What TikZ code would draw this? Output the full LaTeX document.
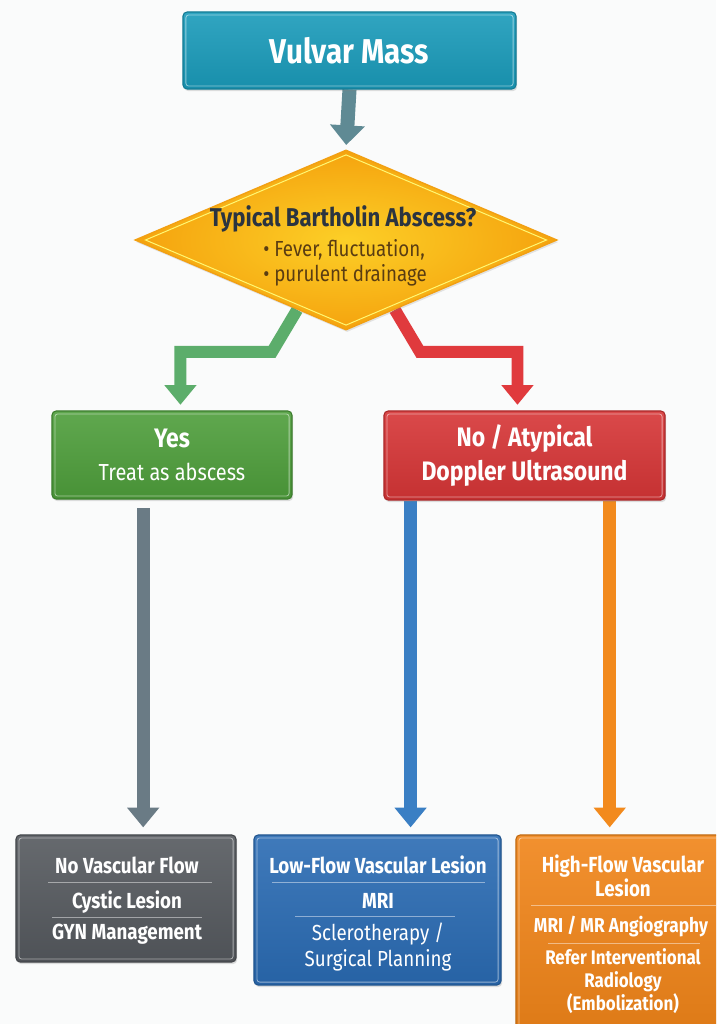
\documentclass[tikz,border=0pt]{standalone}
\usepackage{fontspec}
\setmainfont{Fira Sans}[FakeStretch=0.86]
\usetikzlibrary{shapes.geometric,arrows.meta,shadows}

\definecolor{paper}{HTML}{FAFBFB}
\definecolor{tealbox}{HTML}{1A9BBA}
\definecolor{tealarrow}{HTML}{5F8A94}
\definecolor{diaIn}{HTML}{FCCF27}
\definecolor{diaOut}{HTML}{F5A30E}
\definecolor{diaLine}{HTML}{F2A012}
\definecolor{diaText}{HTML}{2B3440}
\definecolor{diaBullet}{HTML}{5A3D12}
\definecolor{greenarrow}{HTML}{5CAD6B}
\definecolor{greenbox}{HTML}{4E9E3B}
\definecolor{redarrow}{HTML}{E03A3D}
\definecolor{redbox}{HTML}{D63536}
\definecolor{grayarrow}{HTML}{6A7B85}
\definecolor{graybox}{HTML}{55595E}
\definecolor{bluearrow}{HTML}{3A7FC4}
\definecolor{bluebox}{HTML}{2A6BB3}
\definecolor{orangearrow}{HTML}{F28A1D}
\definecolor{orangebox}{HTML}{F08418}

\pgfdeclarelayer{paperlayer}
\pgfdeclarelayer{linklayer}
\pgfsetlayers{paperlayer,linklayer,main}

\begin{document}
\begin{tikzpicture}[x=0.025cm, y=-0.025cm,
    flowbox/.style={rectangle, rounded corners=3pt, draw=#1!80!black, line width=0.8pt,
        top color=#1!90!white, bottom color=#1!92!black, text=white, align=center,
        drop shadow={opacity=0.25, shadow xshift=0.8pt, shadow yshift=-1.5pt}},
    flow/.style={draw=#1, line width=9pt, -{Triangle[width=22pt,length=14pt]}},
    divider/.style={draw=white, opacity=0.45, line width=0.6pt},
    boxtext/.style={text=white, align=center, font=\fontsize{15.5}{18}\selectfont\bfseries}]

    % --- sayfa ---
    \useasboundingbox (0,0) rectangle (716,1024);
    \begin{pgfonlayer}{paperlayer}
        \fill[paper] (0,0) rectangle (716,1024);
    \end{pgfonlayer}
    \clip (0,0) rectangle (716,1024);

    % --- baslangic ---
    \node[flowbox=tealbox, minimum width=8.325cm, minimum height=1.925cm,
        font=\fontsize{24.5}{28}\selectfont\bfseries] (mass) at (349.5,50.5) {Vulvar Mass};

    % --- karar (Bartholin) ---
    \node[diamond, minimum width=10.55cm, minimum height=4.5cm, inner sep=0pt,
        draw=diaLine, line width=1pt, inner color=diaIn, outer color=diaOut,
        drop shadow={opacity=0.2, shadow xshift=0.8pt, shadow yshift=-1.5pt}] (bartholin) at (346,240) {};
    \draw[yellow!55!white, line width=0.7pt] ([yshift=-4pt]bartholin.north) -- ([xshift=-8pt]bartholin.east)
        -- ([yshift=4pt]bartholin.south) -- ([xshift=8pt]bartholin.west) -- cycle;
    \node[text=diaText, font=\fontsize{18.3}{22}\selectfont\bfseries] (bartholinq) at (343,219) {Typical Bartholin Abscess?};
    \node[text=diaBullet, align=left, font=\fontsize{15.5}{17}\selectfont] (bartholinb) at (345,263)
        {\textbullet\ Fever, fluctuation,\\[1pt]\textbullet\ purulent drainage};

    % --- iki dal ---
    \node[flowbox=greenbox, minimum width=6cm, minimum height=2.2cm,
        font=\fontsize{16.5}{19}\selectfont] (yes) at (172,455)
        {{\fontsize{19}{21}\selectfont\bfseries Yes}\\[4pt]Treat as abscess};
    \node[flowbox=redbox, minimum width=7.025cm, minimum height=2.225cm,
        font=\fontsize{19}{21}\selectfont\bfseries] (no) at (524.5,455.5)
        {No / Atypical\\[3pt]Doppler Ultrasound};

    % --- sonuclar ---
    \node[flowbox=graybox, minimum width=5.5cm, minimum height=3.175cm] (novasc) at (126,898.5) {};
    \node[flowbox=bluebox, minimum width=6.175cm, minimum height=3.75cm] (lowflow) at (377.5,910) {};
    \node[flowbox=orangebox, minimum width=5.35cm, minimum height=5.125cm] (highflow) at (623,937.5) {};

    \foreach \n in {mass,yes,no,novasc,lowflow,highflow}
        \draw[white, opacity=0.5, line width=0.6pt, rounded corners=2pt]
            ([xshift=2.5pt,yshift=2.5pt]\n.south west) rectangle ([xshift=-2.5pt,yshift=-2.5pt]\n.north east);

    \node[boxtext] (novasc1) at (127,865) {No Vascular Flow};
    \draw[divider] (48,882) -- (212,882);
    \node[boxtext] (novasc2) at (127,902) {Cystic Lesion};
    \draw[divider] (52,917) -- (202,917);
    \node[boxtext] (novasc3) at (127,934) {GYN Management};

    \node[boxtext] (lowflow1) at (378,865) {Low-Flow Vascular Lesion};
    \draw[divider] (272,882) -- (485,882);
    \node[boxtext] (lowflow2) at (378,901) {MRI};
    \draw[divider] (295,916) -- (455,916);
    \node[boxtext, font=\fontsize{15.5}{18}\selectfont] (lowflow3) at (378,947) {Sclerotherapy /\\Surgical Planning};

    \node[boxtext, font=\fontsize{15.5}{17.5}\selectfont\bfseries] (highflow1) at (623,876) {High-Flow Vascular\\Lesion};
    \draw[divider] (531,905) -- (716,905);
    \node[boxtext, font=\fontsize{14.3}{17}\selectfont\bfseries] (highflow2) at (621,927) {MRI / MR Angiography};
    \draw[divider] (548,943) -- (700,943);
    \node[boxtext, font=\fontsize{14}{16.2}\selectfont\bfseries] (highflow3) at (623,981)
        {Refer Interventional\\Radiology\\(Embolization)};

    % --- oklar ---
    \begin{pgfonlayer}{linklayer}
        \draw[flow=tealarrow, line width=10pt, -{Triangle[width=24pt,length=14pt]}, shorten >=3pt]
            (mass.south) -- (bartholin.north);
        \draw[flow=greenarrow, line width=8.5pt, shorten >=4pt]
            (bartholin.235) -- ++(-25,42) -| ([xshift=6pt]yes.north);
        \draw[flow=redarrow, line width=8.5pt, shorten >=4pt]
            (bartholin.305) -- ++(25,42) -| ([xshift=-5pt]no.north);
        \draw[flow=grayarrow, shorten <=6pt, shorten >=5pt]
            ([xshift=-20.5pt]yes.south) -- ([xshift=-20.5pt]yes.south |- novasc.north);
        \draw[flow=bluearrow, shorten >=5pt]
            ([xshift=-81pt]no.south) -- ([xshift=-81pt]no.south |- lowflow.north);
        \draw[flow=orangearrow, shorten >=5pt]
            ([xshift=60.6pt]no.south) -- ([xshift=60.6pt]no.south |- highflow.north);
    \end{pgfonlayer}

\end{tikzpicture}
\end{document}
